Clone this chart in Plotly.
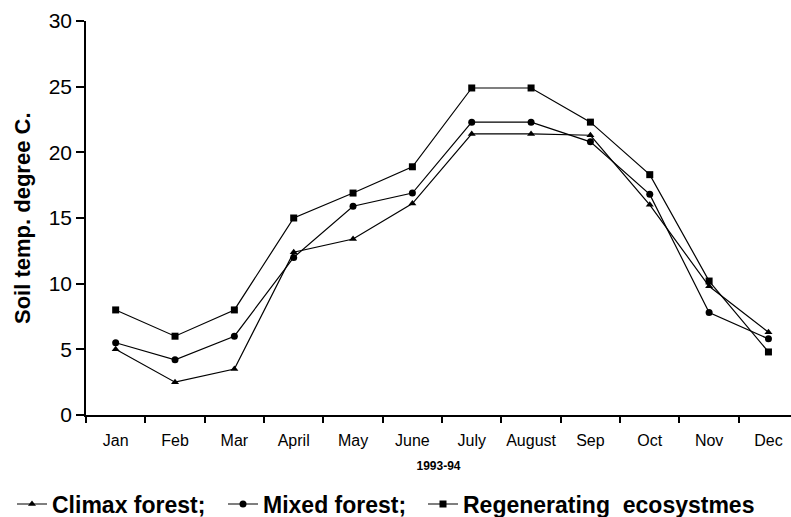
import plotly.graph_objects as go

months = ["Jan", "Feb", "Mar", "April", "May", "June", "July", "August",
          "Sep", "Oct", "Nov", "Dec"]
climax_forest = [5.0, 2.5, 3.5, 12.4, 13.4, 16.1, 21.4, 21.4, 21.3, 16.0, 9.8, 6.3]
mixed_forest = [5.5, 4.2, 6.0, 12.0, 15.9, 16.9, 22.3, 22.3, 20.8, 16.8, 7.8, 5.8]
regenerating = [8.0, 6.0, 8.0, 15.0, 16.9, 18.9, 24.9, 24.9, 22.3, 18.3, 10.2, 4.8]
y_ticks = [0, 5, 10, 15, 20, 25, 30]

FONT = "Liberation Sans, Arial, sans-serif"
W, H = 791, 517
ML, MR, MT, MB = 86, 0, 21, 102

# name, values, marker symbol, legend id, legend left edge (px)
series = [
    ("Climax forest;", climax_forest, "triangle-up", "legend", 12),
    ("Mixed forest;", mixed_forest, "circle", "legend2", 223),
    ("Regenerating\u00a0\u00a0ecosystmes", regenerating, "square", "legend3", 423),
]

fig = go.Figure()
legends = {}
for name, vals, sym, lg, lx in series:
    fig.add_trace(go.Scatter(
        x=months, y=vals, name=name, mode="lines+markers",
        line=dict(color="black", width=1.2),
        marker=dict(symbol=sym, size=7, color="black"),
        legend=lg, showlegend=True,
    ))
    legends[lg] = dict(
        orientation="h", xref="container", yref="paper",
        x=lx / W, y=-0.226, xanchor="left", yanchor="middle",
        font=dict(size=23, family=FONT, weight="bold"),
        itemwidth=30, bgcolor="rgba(0,0,0,0)",
    )

# vertical axis caption, placed left of the tick labels
plot_w = W - ML - MR
fig.add_annotation(
    text="<b>Soil temp. degree C.</b>", textangle=-90,
    xref="paper", yref="paper", x=(22 - ML) / plot_w, y=0.5,
    xanchor="center", yanchor="middle", showarrow=False,
    font=dict(size=22, family=FONT, color="black"),
)

fig.update_layout(
    width=W, height=H, showlegend=True,
    paper_bgcolor="white", plot_bgcolor="white",
    margin=dict(l=ML, r=MR, t=MT, b=MB, autoexpand=False),
    font=dict(family=FONT, color="black"),
    **legends,
    xaxis=dict(
        type="category", range=[-0.5, 11.38], automargin=False,
        showline=True, linecolor="black", linewidth=1.5,
        ticks="outside", tickson="boundaries", ticklen=6, tickcolor="black",
        tickwidth=1.5, ticklabelstandoff=10, tickangle=0,
        tickfont=dict(size=16),
        showgrid=False, zeroline=False,
        title=dict(text="<b>1993-94</b>", font=dict(size=12), standoff=14),
    ),
    yaxis=dict(
        range=[0, 30], tickvals=y_ticks, automargin=False,
        showline=True, linecolor="black", linewidth=1.5,
        ticks="outside", ticklen=8, tickcolor="black", tickwidth=1.5,
        tickfont=dict(size=21),
        showgrid=False, zeroline=False,
    ),
)

fig.write_html("out.html")
